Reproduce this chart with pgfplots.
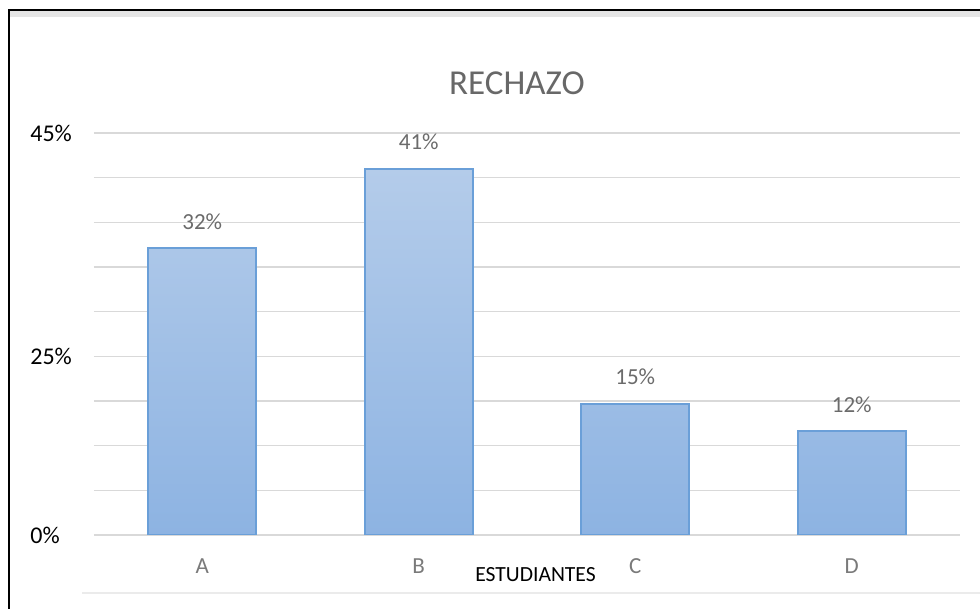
\documentclass[border=0pt]{standalone}
\usepackage{pgfplots}
\pgfplotsset{compat=1.18}
\usepackage{fontspec}
\setmainfont{Carlito}
\definecolor{gridgray}{HTML}{D9D9D9}
\definecolor{bartop}{HTML}{B4CCEA}
\definecolor{barbot}{HTML}{8DB3E2}
\definecolor{barline}{HTML}{6A9FD8}
\definecolor{labgray}{HTML}{6B6B6B}
\definecolor{catgray}{HTML}{7A7A7A}
\begin{document}
\begin{tikzpicture}
\useasboundingbox (0,0) rectangle (490pt,304.5pt);
% frame of the pasted picture
\fill[black!10] (4.5pt,296pt) rectangle (490pt,299.5pt);
\draw[black, line width=1pt] (4.5pt,0) -- (4.5pt,299.5pt) -- (490pt,299.5pt);
\draw[black!8, line width=0.6pt] (41pt,8pt) -- (490pt,8pt);
\begin{axis}[
  at={(47pt,37pt)}, anchor=south west,
  scale only axis,
  width=433pt, height=201pt,
  ybar, bar width=54pt,
  xmin=-0.5, xmax=3.5,
  ymin=0, ymax=45,
  xtick={0,1,2,3},
  xticklabels={A,B,C,D},
  ytick={0,20,45},
  yticklabels={0\%,25\%,45\%},
  minor ytick={5,10,15,25,30,35,40},
  ymajorgrids, yminorgrids,
  major grid style={gridgray, line width=0.75pt},
  minor grid style={gridgray, line width=0.75pt},
  axis line style={draw=none},
  major tick style={draw=none},
  minor tick style={draw=none},
  /pgf/number format/assume math mode=true,
  yticklabel style={anchor=west, inner sep=0pt, xshift=-32pt, font=\fontsize{12}{14}\selectfont, text=black},
  xticklabel style={anchor=base, inner sep=0pt, yshift=-14.75pt, font=\fontsize{11.5}{13}\selectfont, text=catgray},
  nodes near coords={\pgfmathprintnumber[fixed,precision=0]{\pgfplotspointmeta}\%},
  every node near coord/.append style={anchor=south, inner sep=0pt, yshift=9pt, font=\fontsize{11.5}{13}\selectfont, text=labgray},
]
\addplot[ybar, draw=barline, line width=1pt, top color=bartop, bottom color=barbot]
  coordinates {(0,32.1) (1,41.0) (2,14.7) (3,11.6)};
\end{axis}
\node[anchor=base, text=catgray!85!black, font=\fontsize{17.5}{20}\selectfont, inner sep=0pt] at (258.5pt,257pt) {RECHAZO};
\node[anchor=base, text=black, font=\fontsize{10.8}{13}\selectfont, inner sep=0pt] at (267.75pt,13.5pt) {ESTUDIANTES};
\end{tikzpicture}
\end{document}
